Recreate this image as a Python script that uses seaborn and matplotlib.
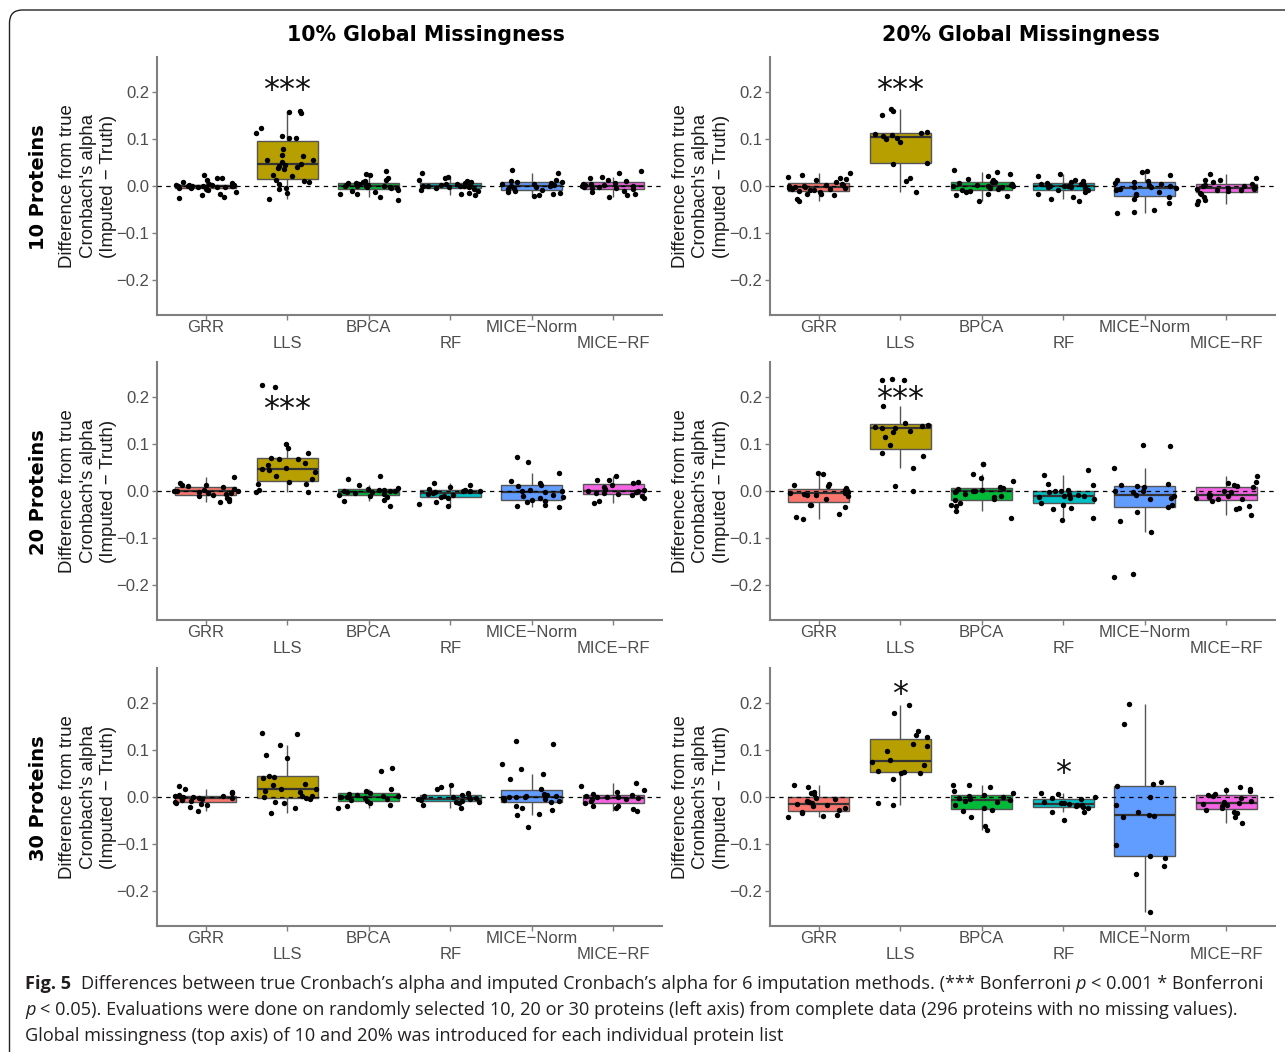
import numpy as np
import pandas as pd
import matplotlib
matplotlib.use("Agg")
import matplotlib.pyplot as plt
import seaborn as sns
from matplotlib.patches import FancyBboxPatch
from matplotlib.transforms import IdentityTransform
from matplotlib import font_manager

# Methods, colours and staggered tick labels
methods = ["GRR", "LLS", "BPCA", "RF", "MICE-Norm", "MICE-RF"]
tick_labels = ["GRR", "\nLLS", "BPCA", "\nRF", "MICE\u2212Norm", "\nMICE\u2212RF"]
colors = ["#F8766D", "#B79F00", "#00BA38", "#00BFC4", "#619CFF", "#F564E3"]

col_titles = ["10% Global Missingness", "20% Global Missingness"]
row_titles = ["10 Proteins", "20 Proteins", "30 Proteins"]

# Difference (imputed - truth) per method
# 10 proteins, 10% missingness
p10_m10 = [
    [-0.025, -0.023, -0.02, -0.016, -0.012, -0.009, -0.006, -0.004, -0.004, -0.003, -0.003, -0.002, -0.002, -0.001, -0.001,
     0.0, 0.0, 0.001, 0.001, 0.002, 0.002, 0.003, 0.003, 0.004, 0.006, 0.009, 0.012, 0.016, 0.018, 0.023],
    [-0.028, -0.014, -0.006, -0.004, 0.004, 0.009, 0.01, 0.012, 0.021, 0.024, 0.037, 0.038, 0.04, 0.042, 0.045,
     0.047, 0.051, 0.055, 0.056, 0.063, 0.067, 0.079, 0.102, 0.103, 0.106, 0.113, 0.124, 0.156, 0.157, 0.16],
    [-0.03, -0.023, -0.018, -0.016, -0.013, -0.011, -0.008, -0.005, -0.004, -0.003, -0.002, -0.001, 0.0, 0.0,
     0.001, 0.002, 0.003, 0.004, 0.005, 0.006, 0.006, 0.008, 0.01, 0.013, 0.017, 0.023, 0.026, 0.031],
    [-0.02, -0.017, -0.014, -0.011, -0.009, -0.006, -0.004, -0.003, -0.002, -0.001, 0.0, 0.0, 0.001, 0.002,
     0.003, 0.004, 0.005, 0.006, 0.008, 0.01, 0.013, 0.017, 0.019, 0.028],
    [-0.022, -0.02, -0.016, -0.014, -0.012, -0.01, -0.008, -0.006, -0.004, -0.002, 0.0, 0.001, 0.003, 0.004,
     0.005, 0.006, 0.008, 0.008, 0.01, 0.013, 0.028, 0.035],
    [-0.023, -0.02, -0.016, -0.013, -0.01, -0.007, -0.005, -0.004, -0.003, -0.002, -0.001, 0.0, 0.001, 0.002,
     0.003, 0.004, 0.005, 0.007, 0.01, 0.012, 0.016, 0.019, 0.028, 0.033],
]
# 10 proteins, 20% missingness
p10_m20 = [
    [0.028, 0.023, 0.02, 0.018, 0.015, 0.012, 0.008, 0.005, 0.003, 0.002, 0.0, -0.001, -0.002, -0.003, -0.004,
     -0.005, -0.006, -0.007, -0.008, -0.009, -0.011, -0.013, -0.016, -0.018, -0.02, -0.027, -0.032],
    [0.165, 0.159, 0.152, 0.116, 0.113, 0.111, 0.108, 0.106, 0.102, 0.1, 0.094, 0.05, 0.046, 0.016, 0.01, -0.013],
    [0.035, 0.03, 0.026, 0.022, 0.015, 0.012, 0.009, 0.008, 0.006, 0.004, 0.003, 0.002, 0.0, 0.0, -0.001, -0.002,
     -0.004, -0.006, -0.008, -0.01, -0.013, -0.016, -0.019, -0.022, -0.033],
    [0.026, 0.022, 0.013, 0.01, 0.008, 0.007, 0.005, 0.004, 0.003, 0.001, 0.0, -0.001, -0.002, -0.003, -0.005,
     -0.008, -0.009, -0.013, -0.016, -0.023, -0.027, -0.032],
    [0.033, 0.029, 0.023, 0.012, 0.011, 0.009, 0.007, 0.005, 0.003, 0.001, -0.002, -0.003, -0.004, -0.006, -0.009,
     -0.013, -0.016, -0.02, -0.023, -0.027, -0.036, -0.052, -0.055, -0.057],
    [0.026, 0.016, 0.013, 0.012, 0.008, 0.005, 0.003, 0.001, 0.0, -0.002, -0.004, -0.006, -0.007, -0.008, -0.009,
     -0.011, -0.014, -0.018, -0.023, -0.029, -0.033, -0.038],
]
# 20 proteins, 10% missingness
p20_m10 = [
    [0.03, 0.018, 0.013, 0.012, 0.01, 0.008, 0.005, 0.003, 0.001, 0.0, -0.001, -0.003, -0.004, -0.005, -0.006,
     -0.009, -0.011, -0.015, -0.017, -0.022, -0.023],
    [0.226, 0.221, 0.1, 0.092, 0.08, 0.07, 0.069, 0.068, 0.059, 0.056, 0.048, 0.047, 0.045, 0.04, 0.033, 0.026,
     0.019, 0.015, 0.014, 0.003, -0.002, -0.003],
    [0.033, 0.026, 0.012, 0.006, 0.004, 0.003, 0.002, 0.001, 0.0, -0.001, -0.002, -0.003, -0.004, -0.006, -0.008,
     -0.01, -0.013, -0.019, -0.022, -0.033],
    [0.017, 0.012, 0.008, 0.005, 0.003, 0.001, 0.0, -0.001, -0.003, -0.004, -0.006, -0.008, -0.01, -0.013, -0.015,
     -0.023, -0.027, -0.033],
    [0.072, 0.062, 0.038, 0.021, 0.017, 0.012, 0.01, 0.003, 0.001, 0.0, -0.003, -0.008, -0.01, -0.013, -0.015,
     -0.02, -0.022, -0.024, -0.029, -0.033, -0.034],
    [0.031, 0.024, 0.024, 0.02, 0.017, 0.013, 0.008, 0.005, 0.003, 0.001, -0.001, -0.003, -0.004, -0.005, -0.006,
     -0.008, -0.011, -0.015, -0.022, -0.026],
]
# 20 proteins, 20% missingness
p20_m20 = [
    [0.038, 0.037, 0.015, 0.012, 0.01, 0.006, 0.003, 0.001, -0.001, -0.003, -0.004, -0.005, -0.006, -0.008, -0.009,
     -0.011, -0.017, -0.029, -0.03, -0.035, -0.049, -0.055, -0.059],
    [0.239, 0.237, 0.236, 0.182, 0.145, 0.14, 0.138, 0.137, 0.135, 0.134, 0.127, 0.126, 0.116, 0.099, 0.082,
     0.074, 0.05, 0.01, -0.001],
    [0.058, 0.057, 0.037, 0.027, 0.022, 0.008, 0.006, 0.004, 0.003, 0.001, 0.0, -0.001, -0.003, -0.006, -0.01,
     -0.013, -0.018, -0.019, -0.025, -0.029, -0.032, -0.043, -0.057],
    [0.045, 0.035, 0.015, 0.012, 0.003, 0.001, 0.0, -0.003, -0.006, -0.008, -0.01, -0.011, -0.013, -0.015, -0.018,
     -0.025, -0.029, -0.036, -0.038, -0.057, -0.061],
    [0.097, 0.095, 0.048, 0.015, 0.012, 0.011, 0.008, 0.001, 0.0, -0.003, -0.008, -0.01, -0.015, -0.017, -0.029,
     -0.034, -0.045, -0.063, -0.088, -0.178, -0.184],
    [0.031, 0.02, 0.017, 0.012, 0.01, 0.008, 0.0, -0.003, -0.006, -0.008, -0.011, -0.013, -0.015, -0.016, -0.018,
     -0.021, -0.032, -0.036, -0.038, -0.052],
]
# 30 proteins, 10% missingness
p30_m10 = [
    [0.024, 0.016, 0.011, 0.008, 0.004, 0.003, 0.002, 0.001, 0.0, -0.001, -0.002, -0.003, -0.005, -0.006, -0.008,
     -0.01, -0.012, -0.015, -0.017, -0.021, -0.029],
    [0.136, 0.135, 0.11, 0.089, 0.083, 0.045, 0.043, 0.041, 0.028, 0.026, 0.018, 0.016, 0.013, 0.011, 0.003,
     0.002, 0.0, -0.003, -0.004, -0.011, -0.012, -0.023, -0.035],
    [0.061, 0.055, 0.018, 0.013, 0.009, 0.007, 0.005, 0.003, 0.002, 0.001, 0.0, -0.001, -0.003, -0.005, -0.007,
     -0.009, -0.012, -0.016, -0.019, -0.023],
    [0.026, 0.021, 0.017, 0.008, 0.004, 0.002, 0.001, -0.001, -0.003, -0.004, -0.005, -0.006, -0.008, -0.01,
     -0.01, -0.013, -0.017, -0.024],
    [0.12, 0.113, 0.07, 0.06, 0.05, 0.039, 0.017, 0.006, 0.005, 0.003, 0.002, 0.001, 0.0, -0.001, -0.002, -0.004,
     -0.005, -0.006, -0.008, -0.011, -0.02, -0.024, -0.027, -0.037, -0.038, -0.063],
    [0.03, 0.023, 0.015, 0.01, 0.006, 0.004, 0.002, 0.001, 0.0, -0.001, -0.003, -0.004, -0.005, -0.008, -0.012,
     -0.019, -0.02, -0.023, -0.026, -0.03],
]
# 30 proteins, 20% missingness
p30_m20 = [
    [0.026, 0.022, 0.011, 0.008, 0.006, -0.003, -0.005, -0.009, -0.011, -0.013, -0.015, -0.017, -0.02, -0.024,
     -0.028, -0.033, -0.034, -0.038, -0.04, -0.043],
    [0.197, 0.179, 0.14, 0.133, 0.127, 0.114, 0.109, 0.099, 0.079, 0.074, 0.069, 0.056, 0.054, 0.052, 0.051,
     0.038, -0.013, -0.016],
    [0.026, 0.025, 0.022, 0.012, 0.008, 0.004, 0.002, -0.001, -0.003, -0.005, -0.006, -0.008, -0.011, -0.017,
     -0.024, -0.028, -0.029, -0.042, -0.062, -0.07],
    [0.008, 0.006, 0.001, -0.003, -0.004, -0.01, -0.012, -0.013, -0.014, -0.016, -0.017, -0.02, -0.022, -0.024,
     -0.031, -0.033, -0.05],
    [0.199, 0.155, 0.033, 0.028, 0.023, 0.001, -0.016, -0.033, -0.038, -0.04, -0.042, -0.102, -0.126, -0.13,
     -0.147, -0.165, -0.245],
    [0.022, 0.016, 0.015, 0.012, 0.006, 0.004, 0.002, -0.003, -0.009, -0.011, -0.013, -0.015, -0.017, -0.02,
     -0.024, -0.027, -0.031, -0.035, -0.042, -0.056],
]

panels = [[p10_m10, p10_m20], [p20_m10, p20_m20], [p30_m10, p30_m20]]

# significance stars: (row, col, method, label, y)
stars = [
    (0, 0, "LLS", "***", 0.204),
    (0, 1, "LLS", "***", 0.204),
    (1, 0, "LLS", "***", 0.174),
    (1, 1, "LLS", "***", 0.196),
    (2, 1, "LLS", "*", 0.218),
    (2, 1, "RF", "*", 0.051),
]

sns.set_style("white")
plt.rcParams["font.family"] = ["Liberation Sans", "DejaVu Sans"]
np.random.seed(7)

W, H = 1285, 1052
fig = plt.figure(figsize=(W / 100, H / 100), dpi=100)

lefts = [157, 770]
tops = [57, 362, 668]
aw, ah = 505, 258
grey = "#7F7F7F"

for r in range(3):
    for c in range(2):
        vals = panels[r][c]
        df = pd.DataFrame({
            "method": np.repeat(methods, [len(v) for v in vals]),
            "value": np.concatenate(vals),
        })
        ax = fig.add_axes([lefts[c] / W, 1 - (tops[r] + ah) / H, aw / W, ah / H])
        sns.boxplot(data=df, x="method", y="value", hue="method", order=methods, hue_order=methods,
                    palette=colors, saturation=1, width=0.75, showfliers=False, showcaps=False, whis=1.5,
                    linecolor="#555555", linewidth=1.0,
                    medianprops={"color": "#333333", "linewidth": 1.6},
                    legend=False, ax=ax)
        ax.axhline(0, color="black", lw=0.9, ls=(0, (3.5, 3.5)), zorder=4)
        sns.stripplot(data=df, x="method", y="value", order=methods, color="black",
                      size=3.9, jitter=0.39, ax=ax, zorder=5)
        for (rr, cc, m, lab, yv) in stars:
            if rr == r and cc == c:
                ax.text(methods.index(m), yv, lab, ha="center", va="center",
                        fontsize=23, family="DejaVu Sans", color="#111111", zorder=6)

        ax.set_xlim(-0.6, 5.6)
        ax.set_ylim(-0.275, 0.275)
        ax.set_yticks([-0.2, -0.1, 0.0, 0.1, 0.2])
        ax.set_yticklabels(["\u22120.2", "\u22120.1", "0.0", "0.1", "0.2"])
        ax.set_xticks(range(6))
        ax.set_xticklabels(tick_labels, linespacing=1.08)
        ax.set_xlabel("")
        ax.set_ylabel("")
        ax.tick_params(axis="both", which="both", color=grey, labelcolor="#4D4D4D", labelsize=12,
                       length=3.5, width=1, pad=2, left=True, bottom=True)
        ax.tick_params(axis="x", pad=0)
        for s in ["top", "right"]:
            ax.spines[s].set_visible(False)
        for s in ["left", "bottom"]:
            ax.spines[s].set_color(grey)
            ax.spines[s].set_linewidth(1.5)

        yc = tops[r] + ah / 2
        fig.text((lefts[c] - 69) / W, 1 - yc / H,
                 "Difference from true\nCronbach's alpha\n(Imputed \u2212 Truth)",
                 rotation=90, ha="center", va="center", multialignment="center",
                 fontsize=13.4, linespacing=1.27, color="#1A1A1A")
        if c == 0:
            fig.text(38 / W, 1 - (yc + 1) / H, row_titles[r], rotation=90, ha="center", va="center",
                     fontsize=14, fontweight="bold", family="DejaVu Sans", color="black")

for c, t in enumerate(col_titles):
    fig.text([426, 1021][c] / W, 1 - 35 / H, t, ha="center", va="center",
             fontsize=14.8, fontweight="bold", family="DejaVu Sans", color="black")

# frame around figure and caption
frame = FancyBboxPatch((9.5, -60), 1400, 1042 + 60, boxstyle="round,pad=0,rounding_size=13",
                       transform=IdentityTransform(), fill=False, edgecolor="#222222", linewidth=1.0)
fig.add_artist(frame)

# caption
names = {f.name for f in font_manager.fontManager.ttflist}
cap_font = "Liberation Sans Narrow" if "Liberation Sans Narrow" in names else "Open Sans"
renderer = fig.canvas.get_renderer()

cap_lines = [
    [("Fig. 5", "bold", "normal", 0),
     ("Differences between true Cronbach\u2019s alpha and imputed Cronbach\u2019s alpha for 6 imputation methods. (*** Bonferroni",
      "normal", "normal", 2),
     ("p", "normal", "italic", 1),
     ("< 0.001 * Bonferroni", "normal", "normal", 1)],
    [("p", "normal", "italic", 0),
     ("< 0.05). Evaluations were done on randomly selected 10, 20 or 30 proteins (left axis) from complete data (296 proteins with no missing values).",
      "normal", "normal", 1)],
    [("Global missingness (top axis) of 10 and 20% was introduced for each individual protein list",
      "normal", "normal", 0)],
]
baselines = [989, 1015, 1041]


def draw_line(runs, x0, ybase, size):
    probe_a = fig.text(0, 0, "a a", fontsize=size, family=cap_font)
    probe_b = fig.text(0, 0, "aa", fontsize=size, family=cap_font)
    space = probe_a.get_window_extent(renderer).width - probe_b.get_window_extent(renderer).width
    probe_a.remove()
    probe_b.remove()
    x = x0
    made = []
    for s, wt, st, gap in runs:
        x += gap * space
        t = fig.text(x, H - ybase, s, transform=IdentityTransform(), fontsize=size, fontweight=wt,
                     fontstyle=st, family=cap_font, color="#231F20", ha="left", va="baseline")
        made.append(t)
        x += t.get_window_extent(renderer).width
    return x, made


end, tmp = draw_line(cap_lines[0], 25, baselines[0], 12)
for t in tmp:
    t.remove()
cap_size = 12 * (1262 - 25) / (end - 25)
for runs, yb in zip(cap_lines, baselines):
    draw_line(runs, 25, yb, cap_size)

fig.savefig("out.png", dpi=100)
